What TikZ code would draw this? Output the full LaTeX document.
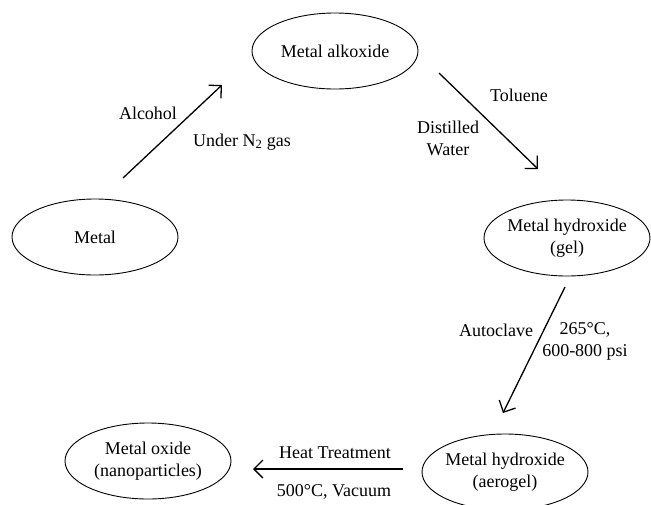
\documentclass[tikz,border=0pt]{standalone}
\usepackage{fontspec}
\setmainfont{Liberation Serif}
\usetikzlibrary{arrows.meta,shapes.geometric}
\begin{document}
\begin{tikzpicture}[x=1pt,y=-1pt,
  stage/.style={draw, ellipse, line width=0.9pt, minimum width=166pt, minimum height=76pt,
    inner xsep=-5pt, inner ysep=0pt, align=center, font=\fontsize{18}{22}\selectfont},
  lbl/.style={align=center, font=\fontsize{18}{22}\selectfont, inner sep=0pt},
  flow/.style={line width=1.3pt, -{Straight Barb[length=9pt,width=18pt]}}]
\useasboundingbox (0,0) rectangle (651,504);
\clip (0,0) rectangle (651,504);
% stages
\node[stage] (metal) at (95,237) {Metal};
\node[stage] (alk) at (335,51) {Metal alkoxide};
\node[stage] (gel) at (567,238) {Metal hydroxide\\(gel)};
\node[stage] (aero) at (505,472) {Metal hydroxide\\(aerogel)};
\node[stage] (oxide) at (148,461) {Metal oxide\\(nanoparticles)};
% arrow end points
\coordinate (a1s) at (123,178);
\coordinate (a1e) at (222,85);
\coordinate (a2s) at (439,73);
\coordinate (a2e) at (538,169);
\coordinate (a3s) at (565,287);
\coordinate (a3e) at (503,413);
\coordinate (a4s) at (403,469);
\coordinate (a4e) at (253,469);
\draw[flow] (a1s) -- (a1e);
\draw[flow] (a2s) -- (a2e);
\draw[flow] (a3s) -- (a3e);
\draw[flow] (a4s) -- (a4e);
% labels
\node[lbl] (alc) at (148,113) {Alcohol};
\node[lbl] (n2) at (242,142) {Under N\textsubscript{2} gas};
\node[lbl] (tol) at (519,95) {Toluene};
\node[lbl] (dw) at (448,138) {Distilled\\Water};
\node[lbl] (auto) at (496,330) {Autoclave};
\node[lbl] (cond) at (585,341) {265°C,\\600-800 psi};
\node[lbl] (heat) at (335,453) {Heat Treatment};
\node[lbl] (vac) at (334,492) {500°C, Vacuum};
\end{tikzpicture}
\end{document}
